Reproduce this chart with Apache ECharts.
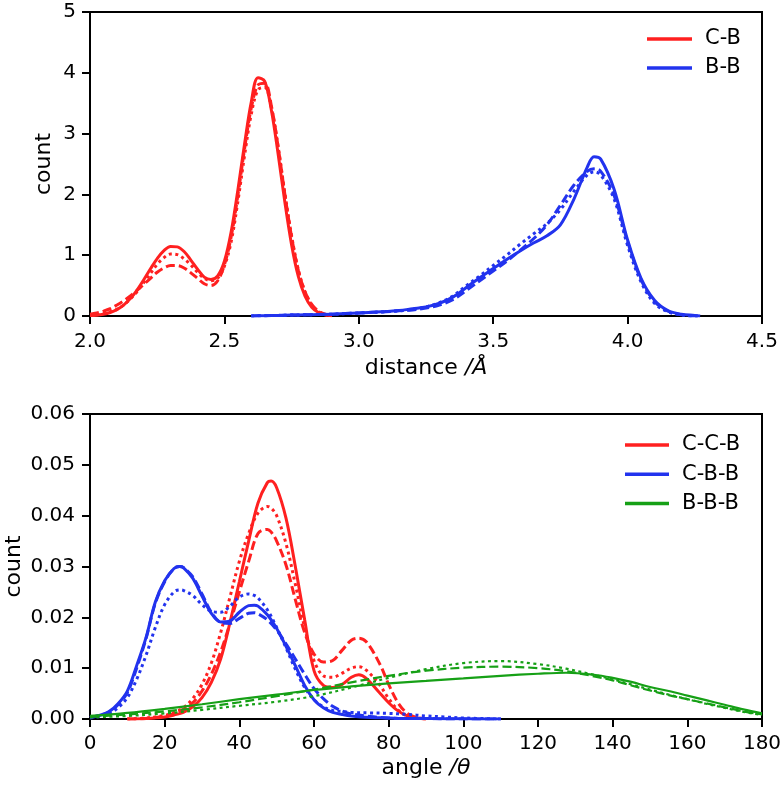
<!DOCTYPE html>
<html><head><meta charset="utf-8">
<script src="https://cdn.jsdelivr.net/npm/echarts@6/dist/echarts.min.js"></script>
<style>html,body{margin:0;padding:0;background:#fff}#c{width:784px;height:786px}</style>
</head><body><div id="c"></div>
<script>
// ---------- top panel: distance distributions ----------
const distTicks = [2.0, 2.5, 3.0, 3.5, 4.0, 4.5];
const countTicksTop = [0, 1, 2, 3, 4, 5];

const cbX = [2.000,2.025,2.050,2.075,2.100,2.125,2.150,2.175,2.200,2.225,2.250,2.275,2.300,2.325,2.350,2.375,2.400,2.425,2.450,2.475,2.500,2.525,2.550,2.575,2.600,2.625,2.650,2.675,2.700,2.725,2.750,2.775,2.800,2.825,2.850,2.875,2.900];
const cbSolid = [0.01,0.014,0.029,0.057,0.105,0.179,0.286,0.427,0.596,0.776,0.945,1.076,1.144,1.137,1.06,0.92,0.77,0.64,0.60,0.66,0.90,1.38,2.07,2.83,3.52,3.92,3.86,3.38,2.66,1.87,1.17,0.65,0.325,0.144,0.057,0.020,0.006];
const cbDashed = [0.03,0.05,0.08,0.12,0.18,0.25,0.33,0.42,0.52,0.62,0.72,0.79,0.83,0.83,0.79,0.71,0.62,0.53,0.50,0.58,0.84,1.30,1.98,2.75,3.42,3.80,3.83,3.45,2.78,2.00,1.30,0.75,0.40,0.19,0.08,0.03,0.01];
const cbDotted = [0.01,0.02,0.04,0.07,0.11,0.18,0.28,0.40,0.55,0.70,0.85,0.96,1.02,1.01,0.94,0.84,0.72,0.62,0.58,0.62,0.82,1.22,1.88,2.64,3.32,3.72,3.76,3.42,2.78,2.02,1.32,0.76,0.40,0.18,0.07,0.02,0.01];

const bbX = [2.60,2.65,2.70,2.75,2.80,2.85,2.90,2.95,3.00,3.05,3.10,3.15,3.20,3.25,3.30,3.35,3.40,3.45,3.50,3.55,3.60,3.65,3.70,3.75,3.80,3.85,3.875,3.90,3.95,4.00,4.05,4.10,4.15,4.20,4.25,4.27];
const bbSolid = [0.00,0.005,0.01,0.015,0.02,0.025,0.03,0.04,0.05,0.06,0.075,0.09,0.12,0.15,0.21,0.31,0.47,0.63,0.78,0.93,1.07,1.20,1.32,1.50,1.92,2.45,2.62,2.58,2.08,1.25,0.62,0.26,0.09,0.03,0.01,0.00];
const bbDashed = [0.00,0.005,0.01,0.015,0.02,0.025,0.03,0.04,0.05,0.06,0.07,0.085,0.10,0.13,0.18,0.27,0.42,0.58,0.74,0.90,1.08,1.27,1.50,1.82,2.15,2.38,2.42,2.38,1.98,1.22,0.60,0.24,0.08,0.02,0.00,0.00];
const bbDotted = [0.00,0.005,0.01,0.015,0.02,0.025,0.03,0.04,0.05,0.06,0.07,0.085,0.11,0.15,0.22,0.33,0.50,0.66,0.83,1.00,1.18,1.35,1.52,1.75,2.05,2.32,2.37,2.32,1.92,1.16,0.56,0.21,0.07,0.02,0.00,0.00];

// ---------- bottom panel: angle distributions ----------
const angleTicks = [0,20,40,60,80,100,120,140,160,180];
const countTicksBottom = [0,0.01,0.02,0.03,0.04,0.05,0.06];

const ccbX = [10,15,20,22.5,25,27.5,30,32.5,35,37.5,40,42.5,45,47.5,48.5,50,52.5,55,57.5,60,62.5,65,67.5,70,72,74,77.5,80,82.5,85,87.5,90];
const ccbSolid = [0.0,0.0001,0.0004,0.0008,0.0013,0.0024,0.0042,0.0072,0.0118,0.0190,0.0270,0.0350,0.0425,0.0465,0.0468,0.0455,0.0395,0.0300,0.0195,0.0095,0.0066,0.0062,0.0068,0.0082,0.0087,0.0080,0.0052,0.0032,0.0016,0.0006,0.0002,0.0];
const ccbDashed = [0.0,0.0001,0.0006,0.0011,0.0019,0.0032,0.0055,0.0088,0.0132,0.0188,0.0250,0.0310,0.0365,0.0373,0.0368,0.0350,0.0303,0.0235,0.0170,0.0128,0.0112,0.0115,0.0135,0.0155,0.0159,0.0152,0.0110,0.0068,0.0032,0.0011,0.0003,0.0];
const ccbDotted = [0.0,0.0002,0.0007,0.0013,0.0022,0.0040,0.0068,0.0110,0.0170,0.0240,0.0310,0.0365,0.0405,0.0418,0.0415,0.0400,0.0345,0.0265,0.0180,0.0115,0.0085,0.0082,0.0090,0.0100,0.0103,0.0096,0.0068,0.0040,0.0018,0.0006,0.0002,0.0];

const cbbX = [0,2.5,5,7.5,10,12.5,15,17.5,20,22.5,24,25,27.5,30,32.5,35,37.5,40,42.5,44,45,47.5,50,52.5,55,57.5,60,62.5,65,67.5,70,75,80,85,90,95,100,110];
const cbbSolid = [0.0003,0.0007,0.0014,0.0030,0.0055,0.0105,0.0160,0.0230,0.0272,0.0296,0.0300,0.0298,0.0277,0.0242,0.0208,0.0191,0.0193,0.0210,0.0223,0.0224,0.0222,0.0205,0.0178,0.0143,0.0105,0.0066,0.0038,0.0022,0.0013,0.0009,0.0006,0.0003,0.0002,0.0001,0.0001,0.00005,0.00003,0.0];
const cbbDashed = [0.0003,0.0007,0.0013,0.0028,0.0052,0.0100,0.0158,0.0228,0.0270,0.0296,0.0300,0.0298,0.0280,0.0246,0.0210,0.0190,0.0188,0.0198,0.0208,0.0209,0.0207,0.0195,0.0175,0.0148,0.0118,0.0088,0.0060,0.0040,0.0025,0.0016,0.0010,0.0005,0.0002,0.0001,0.0001,0.0,0.0,0.0];
const cbbDotted = [0.0002,0.0005,0.0010,0.0022,0.0042,0.0078,0.0125,0.0180,0.0225,0.0250,0.0254,0.0253,0.0243,0.0225,0.0212,0.0210,0.0222,0.0240,0.0246,0.0243,0.0238,0.0215,0.0180,0.0140,0.0098,0.0062,0.0038,0.0024,0.0017,0.0015,0.0013,0.0012,0.0011,0.0009,0.0006,0.0004,0.0002,0.0];

const bbbX = [0,10,20,30,40,50,60,70,80,90,100,110,120,127.5,135,140,145,150,155,160,165,170,175,180];
const bbbSolid = [0.0006,0.0012,0.0020,0.0029,0.0039,0.0048,0.0057,0.0064,0.0070,0.0075,0.0080,0.0085,0.0089,0.0091,0.0087,0.0081,0.0073,0.0063,0.0055,0.0046,0.0037,0.0028,0.0019,0.0011];
const bbbDashed = [0.0004,0.0009,0.0015,0.0023,0.0033,0.0045,0.0058,0.0072,0.0085,0.0095,0.0101,0.0103,0.0100,0.0094,0.0084,0.0076,0.0066,0.0056,0.0047,0.0039,0.0031,0.0023,0.0015,0.0009];
const bbbDotted = [0.0003,0.0006,0.0011,0.0018,0.0026,0.0034,0.0045,0.0062,0.0081,0.0098,0.0110,0.0114,0.0108,0.0099,0.0087,0.0078,0.0068,0.0058,0.0048,0.0039,0.0030,0.0022,0.0014,0.0008];

// ---------- styling ----------
const RED = '#ff2020', BLUE = '#2233ee', GREEN = '#16a016';
const FONT = 'DejaVu Sans';
const DASH = [9, 4], DOT = [3, 3.5];

function pairs(xs, ys) { return xs.map((x, i) => [x, ys[i]]); }
function line(name, gi, xs, ys, color, type, width) {
  return {
    name: name, type: 'line', xAxisIndex: gi, yAxisIndex: gi,
    data: pairs(xs, ys), smooth: 0.35, symbol: 'none', showSymbol: false,
    lineStyle: { color: color, width: width, type: type, cap: 'butt' },
    itemStyle: { color: color }, animation: false, silent: true
  };
}
function xAx(gi, ticks, fmt, nameRich, gap, margin) {
  return {
    type: 'value', gridIndex: gi, min: ticks[0], max: ticks[ticks.length - 1],
    interval: ticks[1] - ticks[0],
    axisLine: { show: true, onZero: false, lineStyle: { color: '#000', width: 2 } },
    axisTick: { show: true, length: 8, lineStyle: { color: '#000', width: 2 } },
    axisLabel: { color: '#000', fontSize: 20, fontFamily: FONT, margin: margin, formatter: fmt },
    splitLine: { show: false },
    name: nameRich, nameLocation: 'middle', nameGap: gap,
    nameTextStyle: { color: '#000', fontSize: 22, fontFamily: FONT,
      rich: { a: { fontSize: 22, fontFamily: FONT, color: '#000' },
              b: { fontSize: 22, fontFamily: FONT, color: '#000', fontStyle: 'italic' } } }
  };
}
function yAx(gi, ticks, fmt, gap, margin) {
  return {
    type: 'value', gridIndex: gi, min: ticks[0], max: ticks[ticks.length - 1],
    interval: ticks[1] - ticks[0],
    axisLine: { show: true, onZero: false, lineStyle: { color: '#000', width: 2 } },
    axisTick: { show: true, length: 8, lineStyle: { color: '#000', width: 2 } },
    axisLabel: { color: '#000', fontSize: 20, fontFamily: FONT, margin: margin, formatter: fmt },
    splitLine: { show: false },
    name: 'count', nameLocation: 'middle', nameGap: gap, nameRotate: 90, nameMoveOverlap: false,
    nameTextStyle: { color: '#000', fontSize: 22, fontFamily: FONT }
  };
}
const legendText = { color: '#000', fontSize: 21, fontFamily: FONT, padding: [0, 0, 0, 8] };

const chart = echarts.init(document.getElementById('c'), null, { renderer: 'canvas' });
chart.setOption({
  animation: false,
  backgroundColor: '#fff',
  grid: [
    { left: 90, right: 22, top: 12, height: 304, show: true, borderColor: '#000', borderWidth: 2,
      backgroundColor: 'transparent', outerBoundsMode: 'none', containLabel: false },
    { left: 90, right: 22, top: 414, height: 305, show: true, borderColor: '#000', borderWidth: 2,
      backgroundColor: 'transparent', outerBoundsMode: 'none', containLabel: false }
  ],
  xAxis: [
    xAx(0, distTicks, v => v.toFixed(1), '{a|distance }{b|/Å}', 41.5, 16),
    xAx(1, angleTicks, v => String(v), '{a|angle }{b|/θ}', 38.5, 15)
  ],
  yAxis: [
    yAx(0, countTicksTop, v => String(v), 35, 14),
    yAx(1, countTicksBottom, v => v.toFixed(2), 65, 15)
  ],
  legend: [
    { data: ['C-B', 'B-B'], orient: 'vertical', left: 642, top: 23.5, icon: 'rect', itemWidth: 45, itemHeight: 3.5, itemGap: 8,
      textStyle: legendText, selectedMode: false },
    { data: ['C-C-B', 'C-B-B', 'B-B-B'], orient: 'vertical', left: 620, top: 429.5, icon: 'rect', itemWidth: 44, itemHeight: 3.5, itemGap: 8.2,
      textStyle: legendText, selectedMode: false }
  ],
  series: [
    line('C-B', 0, cbX, cbSolid, RED, 'solid', 3),
    line('C-B dashed', 0, cbX, cbDashed, RED, DASH, 3),
    line('C-B dotted', 0, cbX, cbDotted, RED, DOT, 3),
    line('B-B', 0, bbX, bbSolid, BLUE, 'solid', 3),
    line('B-B dashed', 0, bbX, bbDashed, BLUE, DASH, 3),
    line('B-B dotted', 0, bbX, bbDotted, BLUE, DOT, 3),
    line('C-C-B', 1, ccbX, ccbSolid, RED, 'solid', 3),
    line('C-C-B dashed', 1, ccbX, ccbDashed, RED, DASH, 3),
    line('C-C-B dotted', 1, ccbX, ccbDotted, RED, DOT, 3),
    line('C-B-B', 1, cbbX, cbbSolid, BLUE, 'solid', 3),
    line('C-B-B dashed', 1, cbbX, cbbDashed, BLUE, DASH, 3),
    line('C-B-B dotted', 1, cbbX, cbbDotted, BLUE, DOT, 3),
    line('B-B-B', 1, bbbX, bbbSolid, GREEN, 'solid', 2.2),
    line('B-B-B dashed', 1, bbbX, bbbDashed, GREEN, DASH, 2.2),
    line('B-B-B dotted', 1, bbbX, bbbDotted, GREEN, DOT, 2.2)
  ]
});
</script></body></html>
